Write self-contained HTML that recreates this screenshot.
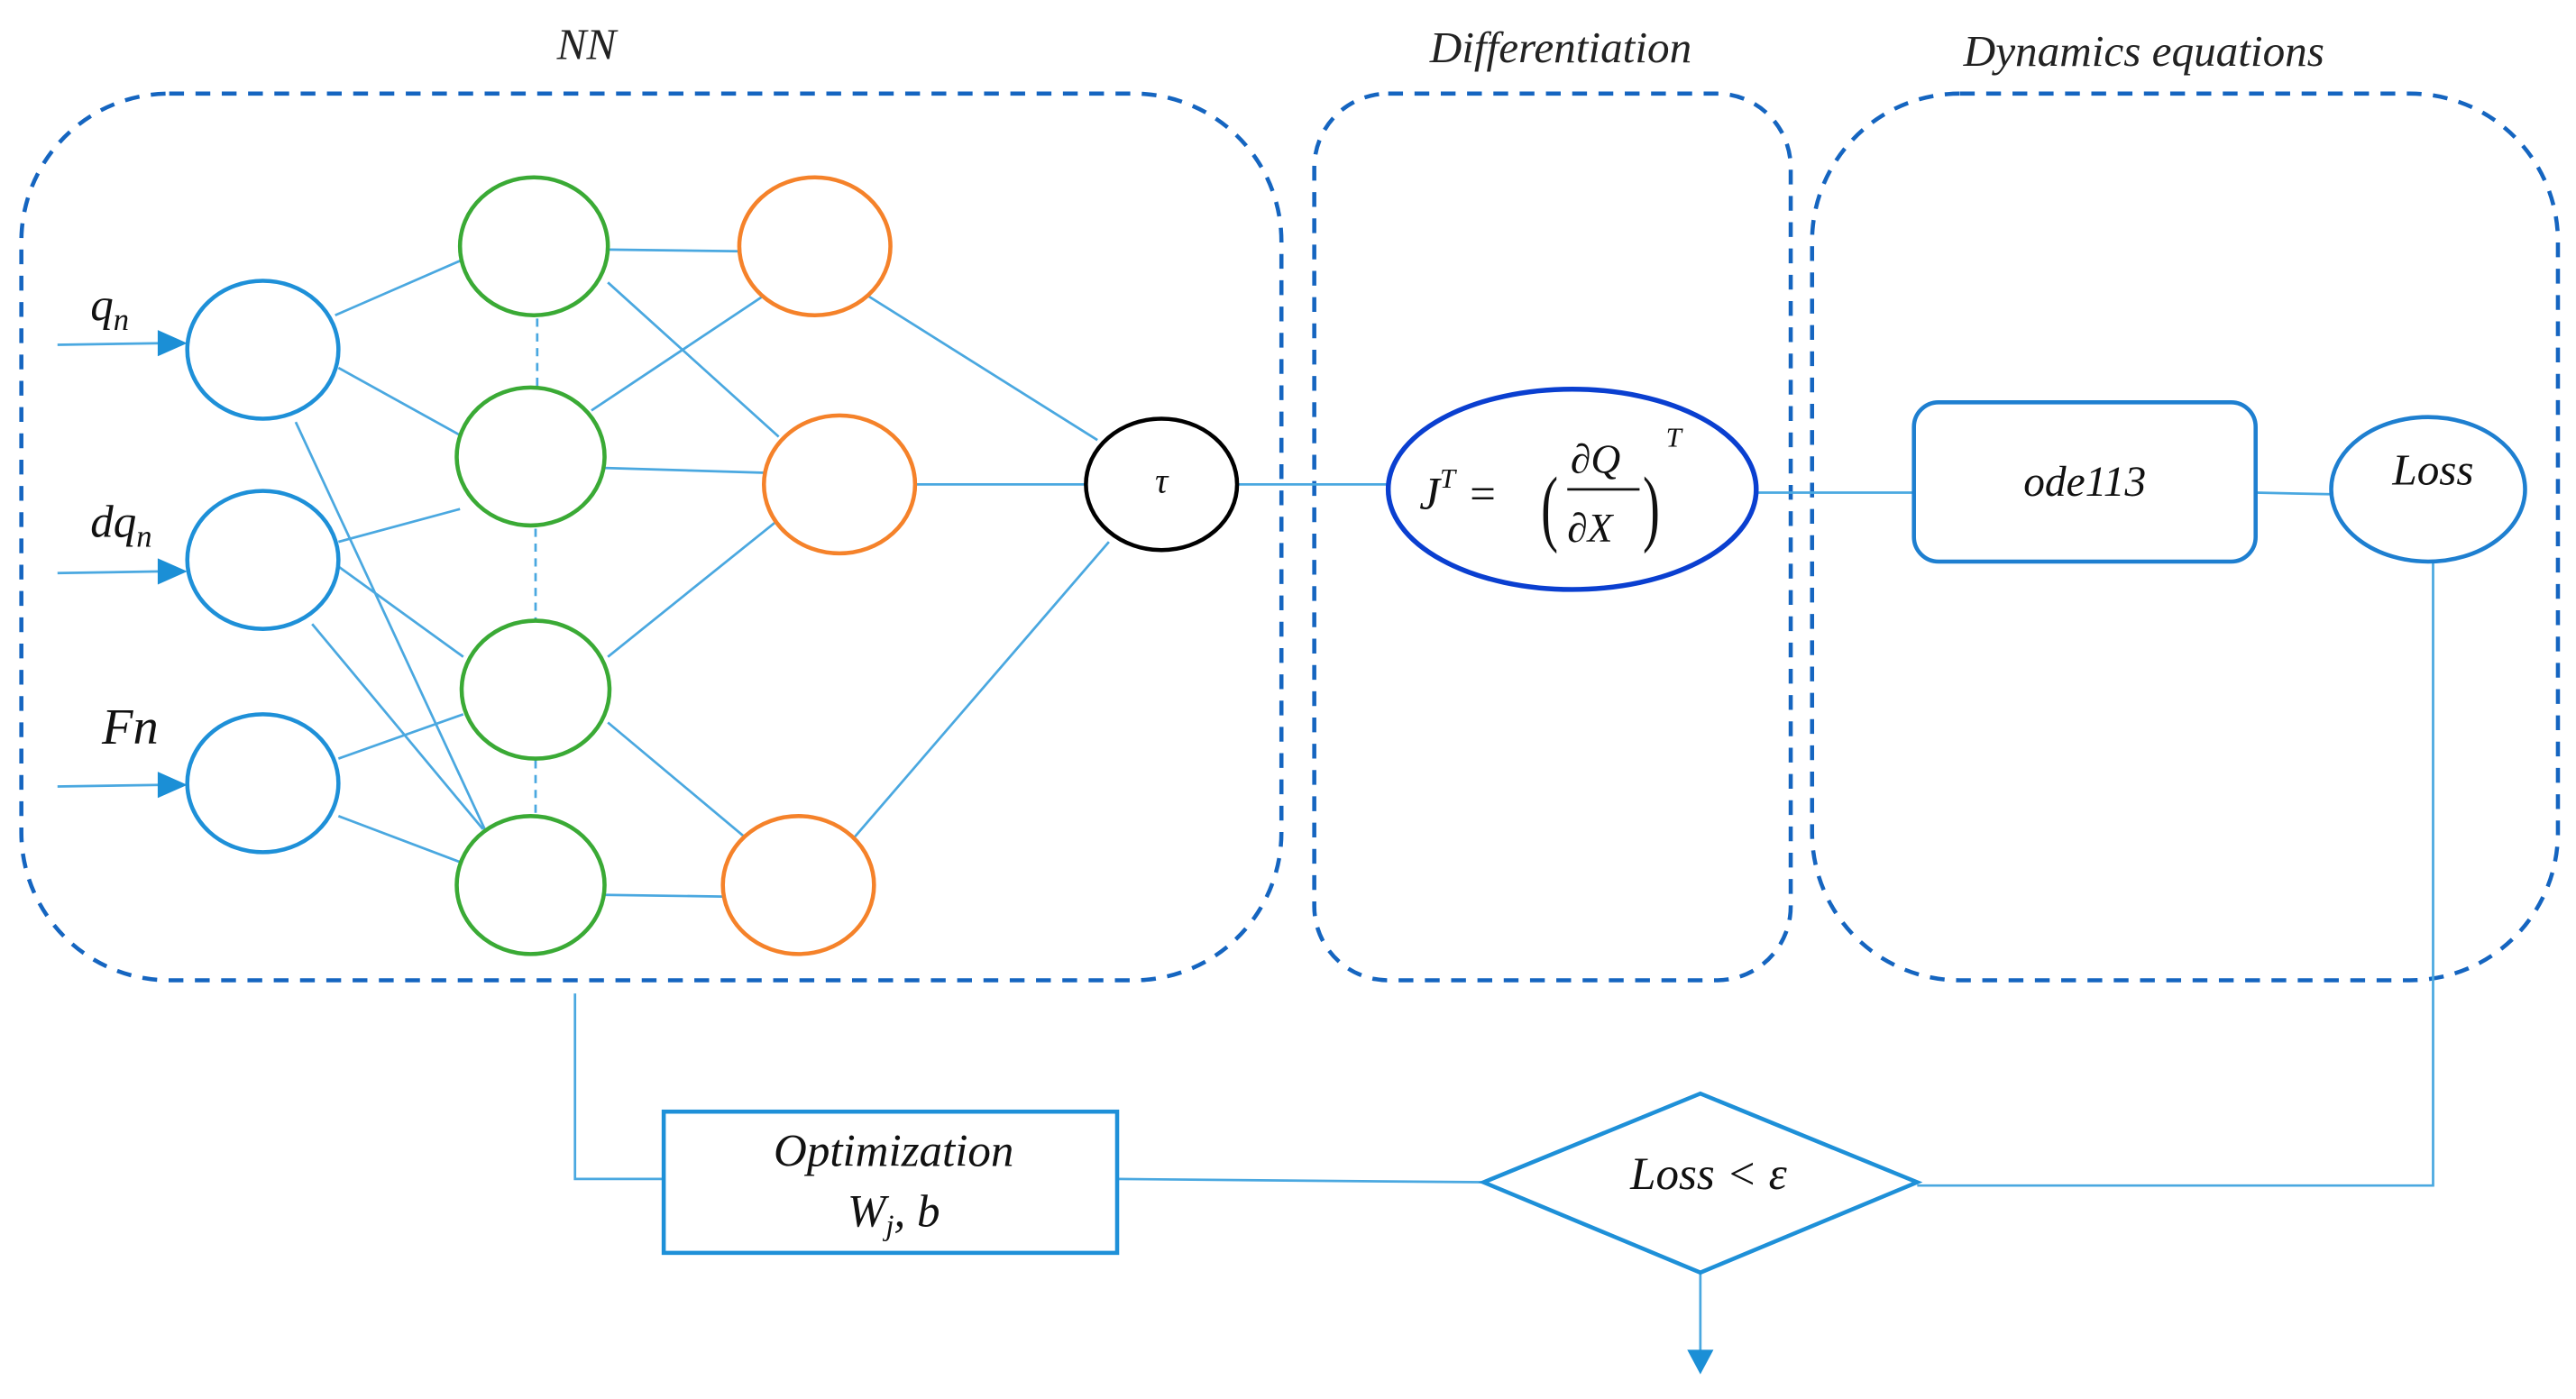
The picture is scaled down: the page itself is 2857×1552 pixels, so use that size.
<!DOCTYPE html>
<html><head><meta charset="utf-8"><style>html,body{margin:0;padding:0;background:#fff}svg{display:block}</style></head><body>
<svg width="2857" height="1552" viewBox="0 0 1568 852" preserveAspectRatio="none" xmlns="http://www.w3.org/2000/svg" font-family="Liberation Serif, serif" font-style="italic">
<g fill="none" stroke="#1565c0" stroke-width="2.5" stroke-dasharray="9,7">
<rect x="13" y="57" width="767" height="540" rx="90"/>
<rect x="800" y="57" width="290" height="540" rx="45"/>
<rect x="1103" y="57" width="454" height="540" rx="90"/>
</g>
<g font-size="27" fill="#222" text-anchor="middle">
<text x="357" y="36">NN</text>
<text x="950" y="38">Differentiation</text>
<text x="1305" y="40">Dynamics equations</text>
</g>
<g stroke="#4aa8e0" stroke-width="1.5" fill="none">
<line x1="204" y1="192" x2="282" y2="158"/><line x1="206" y1="224" x2="280" y2="265"/><line x1="180" y1="257" x2="296" y2="507"/>
<line x1="206" y1="330" x2="280" y2="310"/><line x1="206" y1="345" x2="282" y2="400"/><line x1="190" y1="380" x2="294" y2="505"/>
<line x1="206" y1="462" x2="282" y2="435"/><line x1="206" y1="497" x2="280" y2="525"/>
<line x1="370" y1="152" x2="450" y2="153"/><line x1="370" y1="172" x2="474" y2="266"/>
<line x1="360" y1="250" x2="465" y2="180"/><line x1="368" y1="285" x2="468" y2="288"/>
<line x1="370" y1="400" x2="472" y2="318"/><line x1="370" y1="440" x2="456" y2="512"/>
<line x1="368" y1="545" x2="440" y2="546"/>
<line x1="528" y1="180" x2="668" y2="268"/><line x1="557" y1="295" x2="661" y2="295"/><line x1="520" y1="510" x2="675" y2="330"/>
<line x1="753" y1="295" x2="844" y2="295"/><line x1="1070" y1="300" x2="1165" y2="300"/><line x1="1373" y1="300" x2="1418" y2="301"/>
<line x1="35" y1="210" x2="98" y2="209"/><line x1="35" y1="349" x2="98" y2="348"/><line x1="35" y1="479" x2="98" y2="478"/>
<polyline points="350,605 350,718 404,718"/><line x1="680" y1="718" x2="903" y2="720"/>
<polyline points="1167,722 1481,722 1481,343"/><line x1="1035" y1="775" x2="1035" y2="824"/>
<g stroke-dasharray="5,4"><line x1="327" y1="194" x2="327" y2="236"/><line x1="326" y1="322" x2="326" y2="378"/><line x1="326" y1="463" x2="326" y2="497"/></g>
</g>
<g fill="#1b8fd6">
<polygon points="96,201 114,209 96,217"/><polygon points="96,340 114,348 96,356"/><polygon points="96,470 114,478 96,486"/>
<polygon points="1027,822 1043,822 1035,837"/>
</g>
<g fill="#fff" stroke-width="2.5">
<g stroke="#1e90d8"><ellipse cx="160" cy="213" rx="46" ry="42"/><ellipse cx="160" cy="341" rx="46" ry="42"/><ellipse cx="160" cy="477" rx="46" ry="42"/></g>
<g stroke="#3aaa35"><ellipse cx="325" cy="150" rx="45" ry="42"/><ellipse cx="323" cy="278" rx="45" ry="42"/><ellipse cx="326" cy="420" rx="45" ry="42"/><ellipse cx="323" cy="539" rx="45" ry="42"/></g>
<g stroke="#f5822a"><ellipse cx="496" cy="150" rx="46" ry="42"/><ellipse cx="511" cy="295" rx="46" ry="42"/><ellipse cx="486" cy="539" rx="46" ry="42"/></g>
<ellipse cx="707" cy="295" rx="46" ry="40" stroke="#000"/>
<ellipse cx="957" cy="298" rx="112" ry="61" stroke="#0a3fd0" stroke-width="3"/>
<rect x="1165" y="245" width="208" height="97" rx="15" stroke="#1e7fd0"/>
<ellipse cx="1478" cy="298" rx="59" ry="44" stroke="#1e7fd0"/>
<rect x="404" y="677" width="276" height="86" stroke="#1e90d8"/>
<polygon points="903,720 1035,666 1167,720 1035,775" stroke="#1e90d8"/>
</g>
<g fill="#111" font-size="28">
<text x="55" y="195">q<tspan font-size="19" dy="6">n</tspan></text>
<text x="55" y="327">dq<tspan font-size="19" dy="6">n</tspan></text>
<text x="62" y="453" font-size="31">Fn</text>
<text x="707" y="300" text-anchor="middle" font-size="22">τ</text>
<text x="864" y="310" font-size="28">J<tspan font-size="17" dy="-13">T</tspan><tspan dy="13"> = </tspan></text>
<text x="938" y="326" font-size="52" font-style="normal" transform="translate(938,0) scale(0.6,1) translate(-938,0)">(</text>
<text x="956" y="288" font-size="25">∂Q</text>
<line x1="954" y1="298" x2="998" y2="298" stroke="#111" stroke-width="1.5"/>
<text x="954" y="330" font-size="25">∂X</text>
<text x="1000" y="326" font-size="52" font-style="normal" transform="translate(1000,0) scale(0.6,1) translate(-1000,0)">)</text>
<text x="1014" y="272" font-size="17">T</text>
<text x="1269" y="302" text-anchor="middle" font-size="26">ode113</text>
<text x="1481" y="295" text-anchor="middle" font-size="27">Loss</text>
<text x="544" y="710" text-anchor="middle" font-size="28">Optimization</text>
<text x="544" y="747" text-anchor="middle" font-size="28">W<tspan font-size="18" dy="5">j</tspan><tspan dy="-5">, b</tspan></text>
<text x="1040" y="724" text-anchor="middle" font-size="28">Loss &lt; ε</text>
</g>
</svg>
</body></html>
